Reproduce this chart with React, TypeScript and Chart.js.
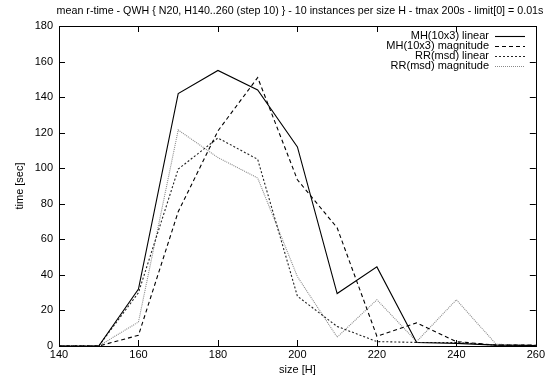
import React, { useEffect, useRef } from "react";
import { Chart, registerables } from "chart.js";

Chart.register(...registerables);

const titleText =
  "mean r-time - QWH { N20, H140..260 (step 10) } - 10 instances per size H - tmax 200s - limit[0] = 0.01s";
const sizes = [140, 150, 160, 170, 180, 190, 200, 210, 220, 230, 240, 250, 260];
const mhLinear = [0, 0, 32, 142, 155, 144, 112, 29.5, 44.5, 2, 1.5, 0.5, 0.3];
const mhMagnitude = [0, 0, 6, 75.5, 121, 151, 93.5, 66.5, 5.5, 13, 2.5, 0.5, 0.5];
const rrLinear = [0, 0, 30, 99.5, 117, 105, 28, 11, 2.5, 2, 2, 0.5, 0.3];
const rrMagnitude = [0, 0, 13.5, 121.5, 106, 94.5, 39, 5, 26, 2.5, 26, 1, 0.3];
const seriesNames = ["MH(10x3) linear", "MH(10x3) magnitude", "RR(msd) linear", "RR(msd) magnitude"];
const xTicks = [140, 160, 180, 200, 220, 240, 260];
const yTicks = [0, 20, 40, 60, 80, 100, 120, 140, 160, 180];

const FONT = "'Liberation Sans', Arial, Helvetica, sans-serif";

export default function App() {
  const ref = useRef<HTMLCanvasElement | null>(null);
  useEffect(() => {
    document.body.style.margin = "0";
    const canvas = ref.current;
    if (!canvas) return;
    const styles = [
      { color: "#000000", dash: [] as number[], width: 1.1 },
      { color: "#000000", dash: [4, 3], width: 1.1 },
      { color: "#222222", dash: [2, 2], width: 1.1 },
      { color: "#8a8a8a", dash: [1, 1], width: 1.1 },
    ];
    const all = [mhLinear, mhMagnitude, rrLinear, rrMagnitude];

    const framePlugin = {
      id: "frame",
      afterDraw(chart: any) {
        const ctx = chart.ctx;
        const a = chart.chartArea;
        const xs = chart.scales.x;
        const ys = chart.scales.y;
        ctx.save();
        ctx.strokeStyle = "#000";
        ctx.lineWidth = 1;
        ctx.setLineDash([]);
        ctx.strokeRect(Math.round(a.left) + 0.5, Math.round(a.top) + 0.5, Math.round(a.right - a.left), Math.round(a.bottom - a.top));
        const tl = 6;
        ctx.beginPath();
        xTicks.forEach((v) => {
          const px = Math.round(xs.getPixelForValue(v)) + 0.5;
          ctx.moveTo(px, a.bottom);
          ctx.lineTo(px, a.bottom - tl);
          ctx.moveTo(px, a.top);
          ctx.lineTo(px, a.top + tl);
        });
        yTicks.forEach((v) => {
          const py = Math.round(ys.getPixelForValue(v)) + 0.5;
          ctx.moveTo(a.left, py);
          ctx.lineTo(a.left + tl, py);
          ctx.moveTo(a.right, py);
          ctx.lineTo(a.right - tl, py);
        });
        ctx.stroke();

        // title
        ctx.fillStyle = "#000";
        ctx.font = `10.7px ${FONT}`;
        ctx.textAlign = "center";
        ctx.textBaseline = "middle";
        ctx.fillText(titleText, 300, 11);
        // axis titles
        ctx.font = `11px ${FONT}`;
        ctx.fillText("size [H]", (a.left + a.right) / 2, 370);
        ctx.save();
        ctx.translate(20, (a.top + a.bottom) / 2);
        ctx.rotate(-Math.PI / 2);
        ctx.fillText("time [sec]", 0, 0);
        ctx.restore();

        // legend
        ctx.textAlign = "right";
        const rowY = [36, 46, 56, 66];
        seriesNames.forEach((name, i) => {
          ctx.fillStyle = "#000";
          ctx.fillText(name, 489, rowY[i]);
          const st = styles[i];
          ctx.beginPath();
          ctx.strokeStyle = st.color;
          ctx.lineWidth = st.width;
          ctx.setLineDash(st.dash);
          ctx.moveTo(495, Math.round(rowY[i]) + 0.5);
          ctx.lineTo(525, Math.round(rowY[i]) + 0.5);
          ctx.stroke();
        });
        ctx.restore();
      },
    };

    const chart = new Chart(canvas, {
      type: "line",
      data: {
        labels: sizes,
        datasets: all.map((vals, i) => ({
          label: seriesNames[i],
          data: vals.map((v, j) => ({ x: sizes[j], y: v })),
          borderColor: styles[i].color,
          borderWidth: styles[i].width,
          borderDash: styles[i].dash,
          pointRadius: 0,
          fill: false,
          tension: 0,
        })),
      },
      options: {
        responsive: false,
        animation: false,
        layout: { padding: { top: 26, right: 10, left: 0, bottom: 0 } },
        plugins: { legend: { display: false }, title: { display: false }, tooltip: { enabled: false } },
        scales: {
          x: {
            type: "linear",
            min: 140,
            max: 260,
            afterFit(s: any) { s.height = 35; },
            afterBuildTicks(s: any) { s.ticks = xTicks.map((v) => ({ value: v })); },
            grid: { display: false, drawTicks: false },
            border: { display: false },
            ticks: { color: "#000", font: { family: FONT, size: 11 }, padding: 2, maxRotation: 0, autoSkip: false },
          },
          y: {
            type: "linear",
            min: 0,
            max: 180,
            afterFit(s: any) { s.width = 59; },
            afterBuildTicks(s: any) { s.ticks = yTicks.map((v) => ({ value: v })); },
            grid: { display: false, drawTicks: false },
            border: { display: false },
            ticks: { color: "#000", font: { family: FONT, size: 11 }, padding: 6, autoSkip: false },
          },
        },
      },
      plugins: [framePlugin],
    });
    return () => chart.destroy();
  }, []);
  return (
    <div style={{ position: "absolute", left: 0, top: 0, width: 547, height: 381 }}>
      <canvas ref={ref} width={547} height={381} style={{ width: 547, height: 381 }} />
    </div>
  );
}
